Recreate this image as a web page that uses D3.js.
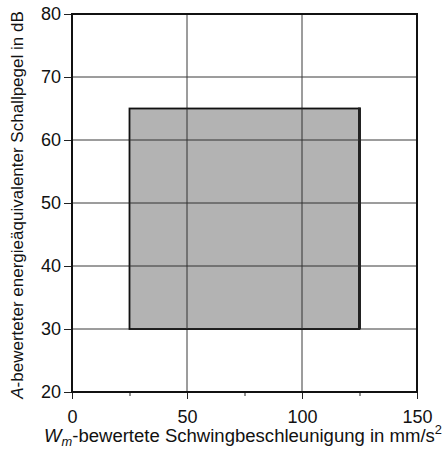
<!DOCTYPE html>
<html>
<head>
<meta charset="utf-8">
<script src="https://cdn.jsdelivr.net/npm/d3@7"></script>
<style>
  body { margin: 0; background: #fff; }
  text { font-family: "Liberation Sans", Arial, sans-serif; }
</style>
</head>
<body>
<svg id="chart"></svg>
<script>
// data
var xRange = [0, 150];
var yRange = [20, 80];
var xMajorTicks = [0, 50, 100, 150];
var xMinorTicks = [25, 75, 125];
var yTicks = [20, 30, 40, 50, 60, 70, 80];
var xGrid = [50, 100];
var yGrid = [30, 40, 50, 60, 70];
// the grey field: from / to on both axes
var fieldX = [25, 125];
var fieldY = [30, 65];

var width = 446, height = 450;
var margin = {left: 72, right: 29, top: 14, bottom: 58};

var svg = d3.select('#chart')
    .attr('width', width)
    .attr('height', height);

var xScale = d3.scaleLinear().domain(xRange).range([margin.left, width - margin.right]);
var yScale = d3.scaleLinear().domain(yRange).range([height - margin.bottom, margin.top]);

// grid lines
svg.append('g').selectAll('line.vgrid')
    .data(xGrid)
    .enter().append('line')
    .attr('class', 'vgrid')
    .attr('x1', d => xScale(d)).attr('x2', d => xScale(d))
    .attr('y1', yScale(yRange[0])).attr('y2', yScale(yRange[1]))
    .attr('stroke', '#3a3a3a')
    .attr('stroke-width', 1);

svg.append('g').selectAll('line.hgrid')
    .data(yGrid)
    .enter().append('line')
    .attr('class', 'hgrid')
    .attr('x1', xScale(xRange[0])).attr('x2', xScale(xRange[1]))
    .attr('y1', d => yScale(d)).attr('y2', d => yScale(d))
    .attr('stroke', '#3a3a3a')
    .attr('stroke-width', 1);

// grey field
svg.append('rect')
    .attr('x', xScale(fieldX[0]))
    .attr('y', yScale(fieldY[1]))
    .attr('width', xScale(fieldX[1]) - xScale(fieldX[0]))
    .attr('height', yScale(fieldY[0]) - yScale(fieldY[1]))
    .attr('fill', '#b3b3b3')
    .attr('stroke', '#111')
    .attr('stroke-width', 1.8);

// right edge of the field is drawn heavier
svg.append('line')
    .attr('x1', xScale(fieldX[1])).attr('x2', xScale(fieldX[1]))
    .attr('y1', yScale(fieldY[0])).attr('y2', yScale(fieldY[1]) - 1)
    .attr('stroke', '#222')
    .attr('stroke-width', 3);

// grid lines again on top of the field
svg.append('g').selectAll('line')
    .data(xGrid)
    .enter().append('line')
    .attr('x1', d => xScale(d)).attr('x2', d => xScale(d))
    .attr('y1', yScale(fieldY[0])).attr('y2', yScale(fieldY[1]))
    .attr('stroke', '#333')
    .attr('stroke-width', 1);

svg.append('g').selectAll('line')
    .data(yGrid.filter(d => d > fieldY[0] && d < fieldY[1]))
    .enter().append('line')
    .attr('x1', xScale(fieldX[0])).attr('x2', xScale(fieldX[1]))
    .attr('y1', d => yScale(d)).attr('y2', d => yScale(d))
    .attr('stroke', '#333')
    .attr('stroke-width', 1);

// axes
var xAxis = d3.axisBottom(xScale).tickValues(xMajorTicks).tickSize(7).tickPadding(11).tickFormat(d3.format('d'));
var xAxisMinor = d3.axisBottom(xScale).tickValues(xMinorTicks).tickSize(4).tickFormat('');
var yAxis = d3.axisLeft(yScale).tickValues(yTicks).tickSize(8).tickPadding(3).tickFormat(d3.format('d'));

var gx = svg.append('g')
    .attr('transform', 'translate(0,' + yScale(yRange[0]) + ')')
    .call(xAxis);
var gxm = svg.append('g')
    .attr('transform', 'translate(0,' + yScale(yRange[0]) + ')')
    .call(xAxisMinor);
var gy = svg.append('g')
    .attr('transform', 'translate(' + xScale(xRange[0]) + ',0)')
    .call(yAxis);

[gx, gxm, gy].forEach(function(g) {
    g.select('.domain').remove();
    g.selectAll('.tick line').attr('stroke', '#222').attr('stroke-width', 1);
    g.selectAll('.tick text')
        .attr('fill', '#111')
        .style('font-size', '18px')
        .style('font-family', '"Liberation Sans", Arial, sans-serif');
});

// frame
svg.append('rect')
    .attr('x', xScale(xRange[0]))
    .attr('y', yScale(yRange[1]))
    .attr('width', xScale(xRange[1]) - xScale(xRange[0]))
    .attr('height', yScale(yRange[0]) - yScale(yRange[1]))
    .attr('fill', 'none')
    .attr('stroke', '#111')
    .attr('stroke-width', 2);

// x label
var xLabel = svg.append('g')
    .attr('transform', 'translate(44,442) scale(1.03,1)')
    .append('text')
    .attr('text-anchor', 'start')
    .attr('fill', '#111')
    .style('font-size', '18px');
xLabel.append('tspan').style('font-style', 'italic').text('W');
xLabel.append('tspan').style('font-style', 'italic').style('font-size', '12.5px').attr('dy', 4).text('m');
xLabel.append('tspan').attr('dy', -4).text('-bewertete Schwingbeschleunigung in mm/s');
xLabel.append('tspan').style('font-size', '12.5px').attr('dy', -8).text('2');

// y label
var yLabel = svg.append('text')
    .attr('transform', 'translate(23,' + (yScale(50) + 2) + ') rotate(-90)')
    .attr('text-anchor', 'middle')
    .attr('fill', '#111')
    .style('font-size', '17px');
yLabel.append('tspan').style('font-style', 'italic').text('A');
yLabel.append('tspan').text('-bewerteter energieäquivalenter Schallpegel in dB');
</script>
</body>
</html>
